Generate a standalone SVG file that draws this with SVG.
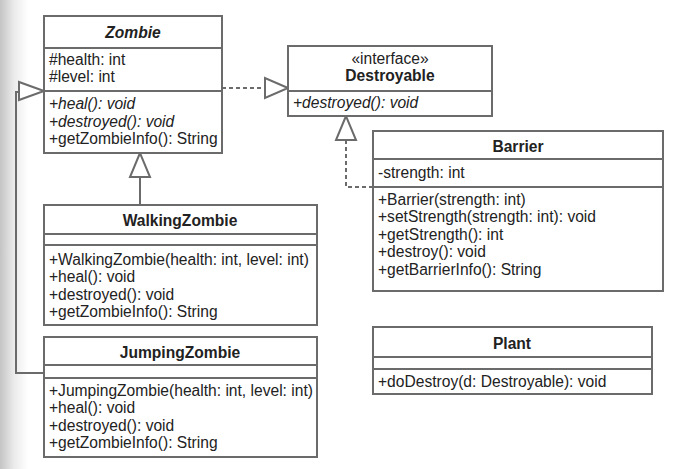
<svg xmlns="http://www.w3.org/2000/svg" width="685" height="469" viewBox="0 0 685 469">
  <defs>
    <linearGradient id="edgeShade" x1="0" y1="0" x2="1" y2="0">
      <stop offset="0" stop-color="#c4c4c4"/>
      <stop offset="0.5" stop-color="#ebebeb"/>
      <stop offset="1" stop-color="#ffffff"/>
    </linearGradient>
  </defs>
  <style>
    .box { fill: #ffffff; stroke: #6b6b6b; stroke-width: 2; }
    .div { stroke: #6b6b6b; stroke-width: 2; fill: none; }
    .edge { stroke: #6b6b6b; stroke-width: 2; fill: none; }
    .dash { stroke: #6b6b6b; stroke-width: 2; fill: none; stroke-dasharray: 4 3; }
    .head { fill: #ffffff; stroke: #6b6b6b; stroke-width: 2; }
    text { font-family: "Liberation Sans", Arial, sans-serif; font-size: 15.6px; fill: #222222; }
    .title { font-weight: bold; text-anchor: middle; }
    .it { font-style: italic; }
  </style>

  <rect x="0" y="0" width="685" height="469" fill="#ffffff"/>
  <rect x="0" y="0" width="28" height="469" fill="url(#edgeShade)"/>

  <!-- connectors -->
  <g id="connectors">
    <!-- JumpingZombie generalizes Zombie -->
    <polyline class="edge" points="44,373 16,373 16,92 19,92"/>
    <polygon class="head" points="44,91 19,82 19,100"/>
    <!-- WalkingZombie generalizes Zombie -->
    <line class="edge" x1="140" y1="177" x2="140" y2="205"/>
    <polygon class="head" points="140,153 130,177 150,177"/>
    <!-- Zombie realizes Destroyable -->
    <line class="dash" x1="222" y1="88" x2="265" y2="88"/>
    <polygon class="head" points="288,88 265,78 265,98"/>
    <!-- Barrier realizes Destroyable -->
    <polyline class="dash" points="346,140 346,187 373,187"/>
    <polygon class="head" points="346,116 336,140 356,140"/>
  </g>

  <g id="Zombie">
    <rect class="box" x="44" y="16" width="178" height="137"/>
    <line class="div" x1="44" y1="48" x2="222" y2="48"/>
    <line class="div" x1="44" y1="91" x2="222" y2="91"/>
    <text class="title it" x="133" y="38">Zombie</text>
    <text x="49" y="65">#health: int</text>
    <text x="49" y="82">#level: int</text>
    <text class="it" x="49" y="109">+heal(): void</text>
    <text class="it" x="49" y="127">+destroyed(): void</text>
    <text x="49" y="144">+getZombieInfo(): String</text>
  </g>

  <g id="Destroyable">
    <rect class="box" x="288" y="46" width="204" height="70"/>
    <line class="div" x1="288" y1="91" x2="492" y2="91"/>
    <text x="390" y="64" text-anchor="middle">«interface»</text>
    <text class="title" x="390" y="81">Destroyable</text>
    <text class="it" x="293" y="108">+destroyed(): void</text>
  </g>

  <g id="Barrier">
    <rect class="box" x="373" y="131" width="290" height="160"/>
    <line class="div" x1="373" y1="159" x2="663" y2="159"/>
    <line class="div" x1="373" y1="187" x2="663" y2="187"/>
    <text class="title" x="518" y="152">Barrier</text>
    <text x="378" y="178">-strength: int</text>
    <text x="378" y="205">+Barrier(strength: int)</text>
    <text x="378" y="222">+setStrength(strength: int): void</text>
    <text x="378" y="240">+getStrength(): int</text>
    <text x="378" y="257">+destroy(): void</text>
    <text x="378" y="275">+getBarrierInfo(): String</text>
  </g>

  <g id="WalkingZombie">
    <rect class="box" x="44" y="205" width="273" height="120"/>
    <line class="div" x1="44" y1="234" x2="317" y2="234"/>
    <line class="div" x1="44" y1="245" x2="317" y2="245"/>
    <text class="title" x="180" y="226">WalkingZombie</text>
    <text x="49" y="265">+WalkingZombie(health: int, level: int)</text>
    <text x="49" y="282">+heal(): void</text>
    <text x="49" y="300">+destroyed(): void</text>
    <text x="49" y="317">+getZombieInfo(): String</text>
  </g>

  <g id="JumpingZombie">
    <rect class="box" x="44" y="337" width="273" height="120"/>
    <line class="div" x1="44" y1="365" x2="317" y2="365"/>
    <line class="div" x1="44" y1="378" x2="317" y2="378"/>
    <text class="title" x="180" y="358">JumpingZombie</text>
    <text x="49" y="396">+JumpingZombie(health: int, level: int)</text>
    <text x="49" y="413">+heal(): void</text>
    <text x="49" y="431">+destroyed(): void</text>
    <text x="49" y="448">+getZombieInfo(): String</text>
  </g>

  <g id="Plant">
    <rect class="box" x="373" y="327" width="279" height="67"/>
    <line class="div" x1="373" y1="357" x2="652" y2="357"/>
    <line class="div" x1="373" y1="369" x2="652" y2="369"/>
    <text class="title" x="512" y="349">Plant</text>
    <text x="378" y="387">+doDestroy(d: Destroyable): void</text>
  </g>
</svg>
